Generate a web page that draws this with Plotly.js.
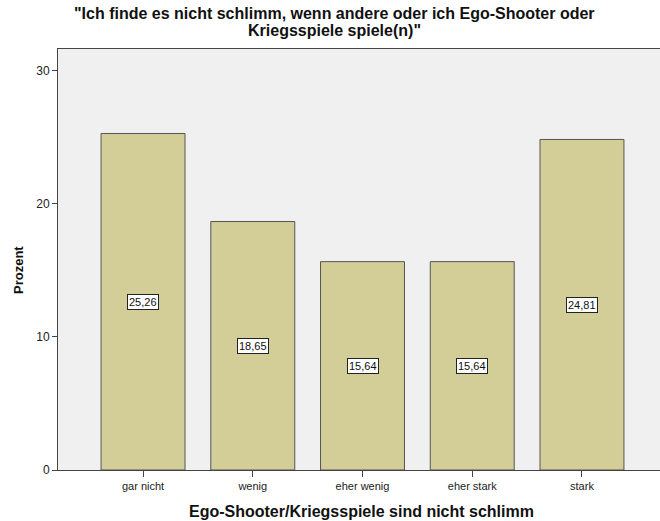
<!DOCTYPE html>
<html>
<head>
<meta charset="utf-8">
<script src="https://cdn.plot.ly/plotly-3.0.1.min.js"></script>
<style>html,body{margin:0;padding:0;background:#fff;}</style>
</head>
<body>
<div id="chart" style="width:660px;height:521px;"></div>
<script>
var categories = ["gar nicht", "wenig", "eher wenig", "eher stark", "stark"];
var percents = [25.26, 18.65, 15.64, 15.64, 24.81];
var yTicks = [0, 10, 20, 30];
var titleLines = ["\"Ich finde es nicht schlimm, wenn andere oder ich Ego-Shooter oder", "Kriegsspiele spiele(n)\""];
var xTitle = "Ego-Shooter/Kriegsspiele sind nicht schlimm";
var yTitle = "Prozent";

var fontFam = "Liberation Sans, Arial, sans-serif";

var labelAnnotations = categories.map(function (c, i) {
  return {
    x: c, y: percents[i] / 2, xref: "x", yref: "y",
    text: percents[i].toFixed(2).replace(".", ","),
    showarrow: false,
    bgcolor: "#ffffff", bordercolor: "#222", borderwidth: 1, borderpad: 1,
    font: {family: fontFam, size: 11, color: "#111"}
  };
});

var titleAnnotations = titleLines.map(function (t, i) {
  return {
    text: "<b>" + t + "</b>",
    xref: "paper", yref: "paper",
    x: (334.5 - 58) / 602, y: (470 - (14 + i * 16)) / 421,
    xanchor: "center", yanchor: "middle", showarrow: false,
    font: {family: fontFam, size: 16, color: "#111"}
  };
});

var trace = {
  type: "bar",
  x: categories,
  y: percents,
  width: 0.765,
  marker: {color: "#D3CE98", line: {color: "#555555", width: 1}},
  hoverinfo: "none"
};

var layout = {
  width: 660, height: 521,
  margin: {l: 58, r: 0, t: 49, b: 51},
  paper_bgcolor: "#ffffff",
  plot_bgcolor: "#F0F0F0",
  showlegend: false,
  font: {family: fontFam, color: "#222"},
  xaxis: {
    type: "category",
    range: [-0.775, 4.711],
    showline: true, linecolor: "#444", linewidth: 1, mirror: true,
    ticks: "outside", ticklen: 6, tickcolor: "#444",
    tickfont: {family: fontFam, size: 11, color: "#222"},
    showgrid: false, zeroline: false, fixedrange: true
  },
  yaxis: {
    range: [0, 31.6],
    tickvals: yTicks,
    showline: true, linecolor: "#444", linewidth: 1,
    ticks: "outside", ticklen: 5, tickcolor: "#444",
    tickfont: {family: fontFam, size: 12, color: "#222"},
    showgrid: false, zeroline: false, fixedrange: true
  },
  annotations: labelAnnotations.concat(titleAnnotations, [
    {
      text: "<b>" + xTitle + "</b>",
      xref: "paper", yref: "paper", x: (361.5 - 58) / 602, y: (470 - 511) / 421,
      xanchor: "center", yanchor: "middle", showarrow: false,
      font: {family: fontFam, size: 16, color: "#111"}
    },
    {
      text: "<b>" + yTitle + "</b>",
      xref: "paper", yref: "paper", x: (18 - 58) / 602, y: (470 - 270) / 421,
      xanchor: "center", yanchor: "middle", showarrow: false, textangle: -90,
      font: {family: fontFam, size: 13, color: "#111"}
    }
  ])
};

Plotly.newPlot("chart", [trace], layout, {displayModeBar: false, staticPlot: true});
</script>
</body>
</html>
